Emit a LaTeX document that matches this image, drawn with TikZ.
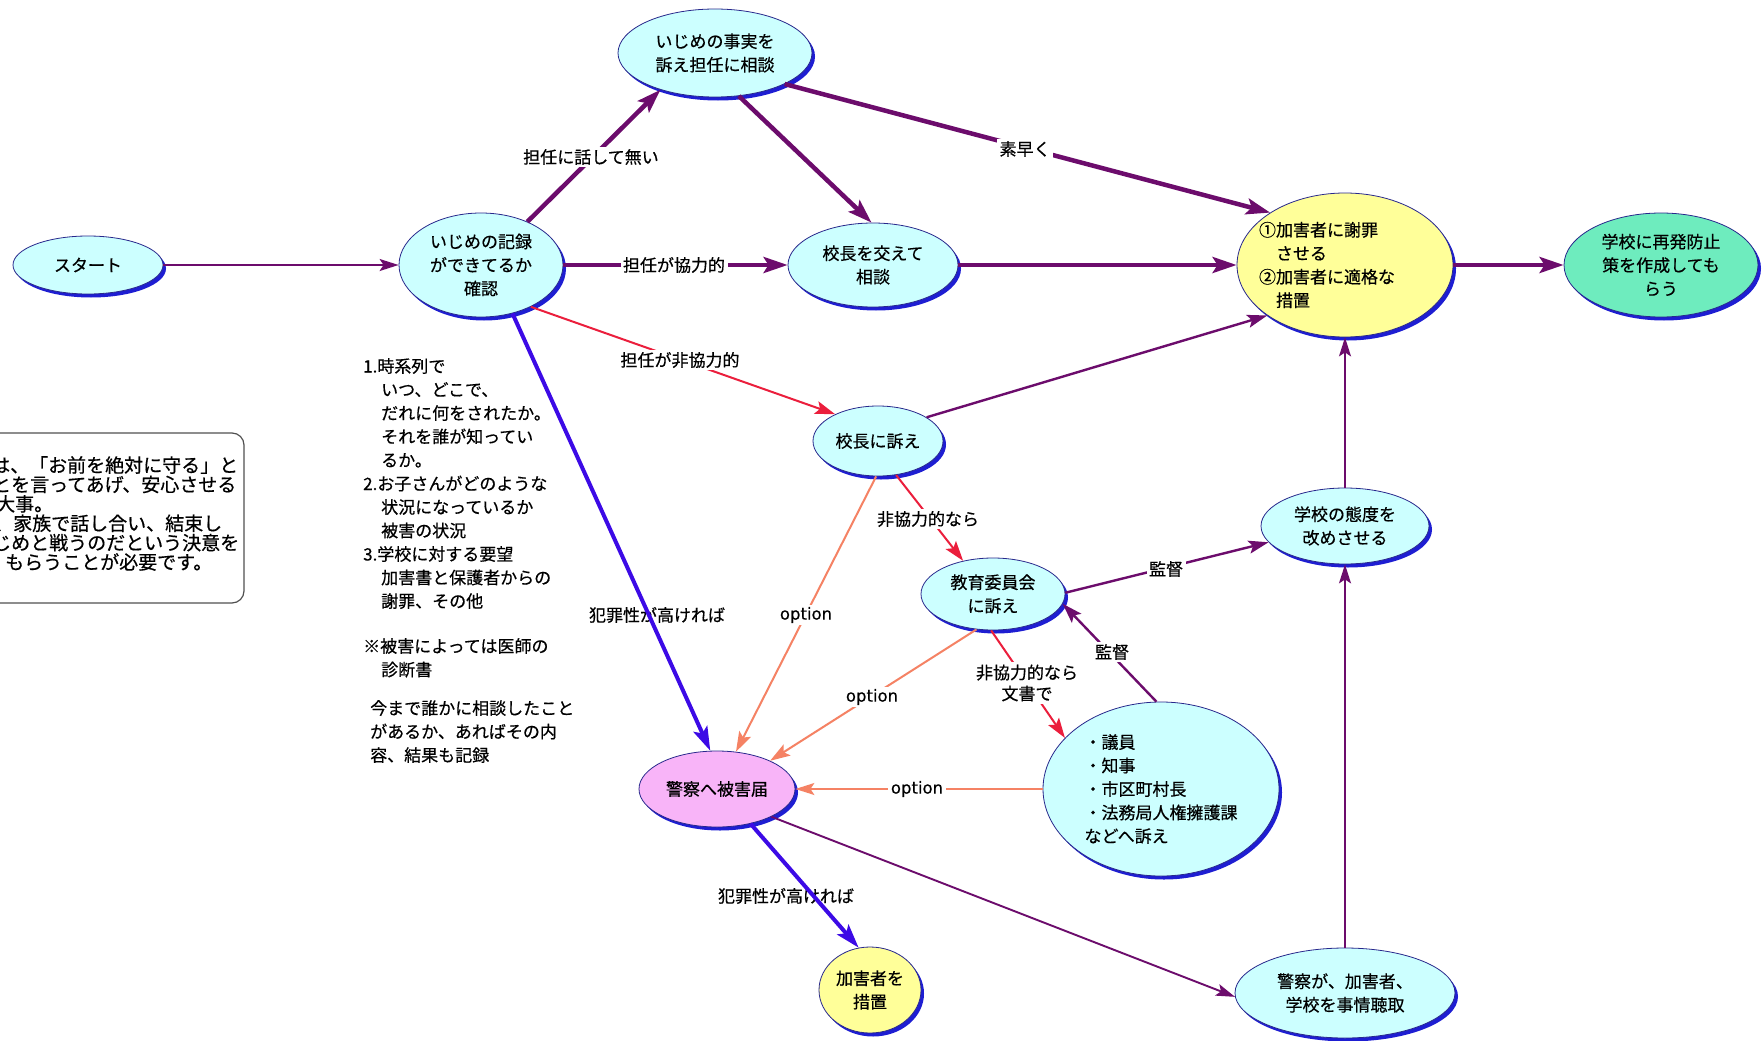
\documentclass[tikz,border=0pt]{standalone}
\usepackage{fontspec}
\setmainfont{Noto Sans CJK JP}[FakeBold=0.5]
\newfontfamily\latinfont{DejaVu Sans}[FakeBold=0.3]
\usetikzlibrary{arrows.meta,shapes.geometric,shadows}
\definecolor{purp}{RGB}{108,12,108}
\definecolor{redl}{RGB}{235,30,60}
\definecolor{salmon}{RGB}{245,130,100}
\definecolor{bluel}{RGB}{60,10,230}
\definecolor{cyanfill}{RGB}{204,255,255}
\definecolor{yellowfill}{RGB}{255,255,153}
\definecolor{greenfill}{RGB}{110,236,190}
\definecolor{pinkfill}{RGB}{248,180,248}
\definecolor{navy}{RGB}{40,40,140}
\definecolor{shadowblue}{RGB}{30,30,210}
\definecolor{boxgray}{RGB}{80,80,80}
\tikzset{
  ell/.style={ellipse, draw=navy, line width=0.8pt, fill=cyanfill, inner sep=0pt, align=center,
    font=\fontsize{17}{23.5}\selectfont,
    drop shadow={shadow xshift=3pt, shadow yshift=-3.5pt, fill=shadowblue, opacity=1}},
  txt/.style={inner sep=0pt, align=left, font=\fontsize{17}{23.5}\selectfont},
  lbl/.style={fill=white, inner sep=2.5pt, align=center, font=\fontsize{17}{21}\selectfont},
  plainlbl/.style={inner sep=0pt, font=\fontsize{17}{21}\selectfont},
  optlbl/.style={fill=white, inner sep=2.5pt, font=\latinfont\fontsize{16.5}{20}\selectfont},
  bigp/.style={draw=purp, line width=4.5pt, -{Stealth[length=24pt,width=16pt,inset=5pt]}},
  medp/.style={draw=purp, line width=2.4pt, -{Stealth[length=20pt,width=13pt,inset=4pt]}},
  thinp/.style={draw=purp, line width=1.4pt, -{Stealth[length=19pt,width=12pt,inset=4pt]}},
  thinpb/.style={draw=purp, line width=1.9pt, -{Stealth[length=19pt,width=12pt,inset=4pt]}},
  redarrow/.style={draw=redl, line width=2pt, -{Stealth[length=20pt,width=13pt,inset=4pt]}},
  salarrow/.style={draw=salmon, line width=2pt, -{Stealth[length=20pt,width=13pt,inset=4pt]}},
  salthin/.style={draw=salmon, line width=1.3pt, -{Stealth[length=19pt,width=12pt,inset=4pt]}},
  bluearrow/.style={draw=bluel, line width=4pt, -{Stealth[length=24pt,width=15pt,inset=5pt]}},
}
\begin{document}
\begin{tikzpicture}[x=1pt,y=-1pt]
\useasboundingbox (0,0) rectangle (1762,1041);
\clip (0,0) rectangle (1762,1041);
\fill[white] (0,0) rectangle (1762,1041);

% memo box (cut by the left edge)
\draw[rounded corners=12pt, draw=boxgray, line width=1.2pt, fill=white] (-60,433) rectangle (244,603);
\node[txt, anchor=north west, font=\fontsize{19}{19.4}\selectfont] (memo) at (0,456)
 {\hspace*{-9pt}は、「お前を絶対に守る」と\\\hspace*{-8pt}とを言ってあげ、安心させる\\\hspace*{-4pt}大事。\\\hspace*{-6pt}、家族で話し合い、結束し\\\hspace*{-8pt}じめと戦うのだという決意を\\\hspace*{5pt}もらうことが必要です。};

% notes
\node[txt, anchor=north west] (note1) at (363,358)
 {1.時系列で\\\hspace*{18pt}いつ、どこで、\\\hspace*{18pt}だれに何をされたか。\\\hspace*{18pt}それを誰が知ってい\\\hspace*{18pt}るか。\\2.お子さんがどのような\\\hspace*{18pt}状況になっているか\\\hspace*{18pt}被害の状況\\3.学校に対する要望\\\hspace*{18pt}加害書と保護者からの\\\hspace*{18pt}謝罪、その他};
\node[txt, anchor=north west] (note2) at (363,638)
 {※被害によっては医師の\\\hspace*{18pt}診断書};
\node[txt, anchor=north west] (note3) at (370,700)
 {今まで誰かに相談したこと\\があるか、あればその内\\容、結果も記録};

% nodes
\node[ell, minimum width=150pt, minimum height=58pt] (start) at (88,265) {スタート};
\node[ell, minimum width=164pt, minimum height=104pt] (rec) at (481,265) {いじめの記録\\ができてるか\\確認};
\node[ell, minimum width=194pt, minimum height=88pt] (fact) at (715,53) {いじめの事実を\\訴え担任に相談};
\node[ell, minimum width=170pt, minimum height=84pt] (principal) at (873,265) {校長を交えて\\相談};
\node[ell, fill=yellowfill, minimum width=216pt, minimum height=144pt] (apology) at (1345,265) {};
\node[txt] (apologytext) at ([xshift=-18pt]apology.center) {①加害者に謝罪\\\hspace*{17pt}させる\\②加害者に適格な\\\hspace*{17pt}措置};
\node[ell, fill=greenfill, minimum width=194pt, minimum height=104pt] (prevent) at (1661,265) {学校に再発防止\\策を作成しても\\らう};
\node[ell, minimum width=130pt, minimum height=70pt] (appeal) at (878,441) {校長に訴え};
\node[ell, minimum width=168pt, minimum height=76pt] (attitude) at (1345,526) {学校の態度を\\改めさせる};
\node[ell, minimum width=144pt, minimum height=72pt] (board) at (993,594) {教育委員会\\に訴え};
\node[ell, align=left, minimum width=236pt, minimum height=174pt] (council) at (1161,789) {・議員\\・知事\\・市区町村長\\・法務局人権擁護課\\などへ訴え};
\node[ell, fill=pinkfill, minimum width=156pt, minimum height=76pt] (police) at (717,789) {警察へ被害届};
\node[ell, fill=yellowfill, minimum width=102pt, minimum height=86pt] (punish) at (870,990) {加害者を\\措置};
\node[ell, minimum width=220pt, minimum height=90pt] (interview) at (1345,993) {警察が、加害者、\\学校を事情聴取};

% labels that the lines cross
\node[plainlbl] (crime1) at (657,615) {犯罪性が高ければ};
\node[plainlbl] (crime2) at (786,896) {犯罪性が高ければ};

% connectors
\draw[thinp] (start) -- (rec);
\draw[bigp] (rec.43) -- (fact.214);
\draw[bigp] (rec) -- (principal);
\draw[redarrow] (rec.-40) -- (appeal.148);
\draw[bluearrow] (rec.-57) -- (police.100);
\draw[bigp] (fact.-61) -- (principal.92);
\draw[bigp] (fact.-24) -- (apology.145);
\draw[bigp] (principal) -- (apology);
\draw[medp] (appeal.26) -- (apology.213);
\draw[bigp] (apology) -- (prevent);
\draw[redarrow] (appeal.-62) -- (board.132);
\draw[salarrow] (appeal.-93) -- (police.63);
\draw[medp] (board.1) -- (attitude.192);
\draw[medp] (council.93) -- (board.-8);
\draw[salarrow] (board.-115) -- (police.28);
\draw[redarrow] (board.-93) -- (council.152);
\draw[salthin] (council) -- (police);
\draw[bluearrow] (police.-46) -- (punish.105);
\draw[thinpb] (police.-27) -- (interview.182);
\draw[thinp] (interview) -- (attitude);
\draw[thinp] (attitude) -- (apology);

% labels on the lines
\node[lbl] (l1) at (591,157) {担任に話して無い};
\node[lbl] (l2) at (674,265) {担任が協力的};
\node[lbl] (l3) at (680,360) {担任が非協力的};
\node[lbl] (l4) at (1025,149) {素早く};
\node[optlbl] (o1) at (806,615) {option};
\node[lbl] (l5) at (928,519) {非協力的なら};
\node[lbl] (l6) at (1166,569) {監督};
\node[lbl] (l7) at (1112,652) {監督};
\node[lbl] (l8) at (1027,683) {非協力的なら\\文書で};
\node[optlbl] (o2) at (872,697) {option};
\node[optlbl] (o3) at (917,789) {option};
\end{tikzpicture}
\end{document}
